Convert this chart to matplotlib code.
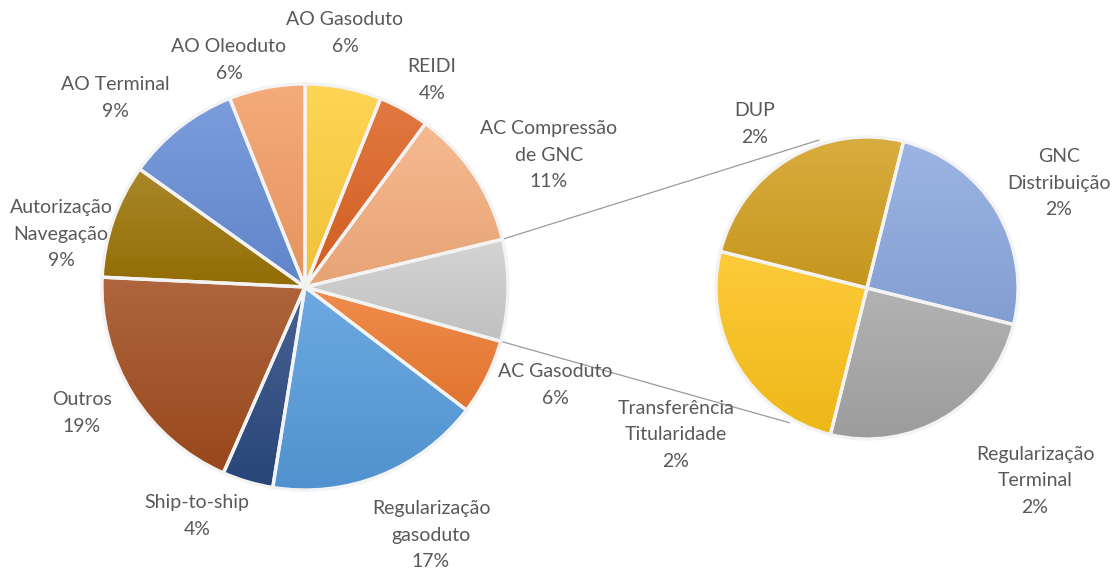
import numpy as np
import matplotlib
matplotlib.use('Agg')
import matplotlib.pyplot as plt
from matplotlib.patches import PathPatch
from matplotlib.colors import to_rgb

# primary pie (clockwise, starting below the grey "others" slice)
main_labels = ['AC Gasoduto', 'Regularização\ngasoduto', 'Ship-to-ship', 'Outros',
               'Autorização\nNavegação', 'AO Terminal', 'AO Oleoduto', 'AO Gasoduto',
               'REIDI', 'AC Compressão\nde GNC', '']
main_values = [6, 17, 4, 19, 9, 9, 6, 6, 4, 11, 8]
main_colors = ['#EE7B30', '#559BDC', '#2B4A80', '#A24C1E', '#9C7406', '#668DD6',
               '#F39D64', '#FECE3A', '#DD6322', '#F5AE7D', '#CDCDCD']

# secondary pie (the 8% grey slice split)
sub_labels = ['GNC\nDistribuição', 'Regularização\nTerminal', 'Transferência\nTitularidade', 'DUP']
sub_values = [2, 2, 2, 2]
sub_colors = ['#8BA8DE', '#A6A6A6', '#FDC31A', '#D2A020']

W, H = 1115, 569
fig = plt.figure(figsize=(W / 100, H / 100), dpi=100, facecolor='w')
ax = fig.add_axes([0, 0, 1, 1])

c1, r1 = (305, H - 287), 203
c2, r2 = (867, H - 288), 151
start1 = -15.5
start2 = 76


def shade(col, f):
    c = np.array(to_rgb(col))
    if f > 0:
        return c + (1 - c) * f
    return c * (1 + f)


def gradient_fill(ax, wedges, colors):
    for w, col in zip(wedges, colors):
        ext = w.get_path().get_extents()
        top, bot = shade(col, 0.14), shade(col, -0.06)
        t = np.linspace(0, 1, 64)[:, None]
        img = top[None, :] * (1 - t[..., None]) + bot[None, :] * t[..., None]
        im = ax.imshow(img, extent=(ext.x0, ext.x1, ext.y0, ext.y1), origin='upper',
                       aspect='auto', zorder=2, interpolation='bilinear')
        im.set_clip_path(w)
        ax.add_patch(PathPatch(w.get_path(), fill=False, ec='#F3F3F3', lw=2.4, zorder=3))


w1, _ = ax.pie(main_values, colors=main_colors, startangle=start1, counterclock=False,
               center=c1, radius=r1, explode=[0.025] * len(main_values),
               wedgeprops=dict(ec='white', lw=2), frame=True)
w2, _ = ax.pie(sub_values, colors=sub_colors, startangle=start2, counterclock=False,
               center=c2, radius=r2, explode=[0.03] * len(sub_values),
               wedgeprops=dict(ec='white', lw=2), frame=True)
gradient_fill(ax, w1, main_colors)
gradient_fill(ax, w2, sub_colors)

# connector lines from the grey slice to the secondary pie
g = w1[-1]
for a1, a2 in [(g.theta2, 108), (g.theta1, -120)]:
    cx, cy = g.center
    p1 = (cx + g.r * np.cos(np.radians(a1)), cy + g.r * np.sin(np.radians(a1)))
    p2 = (c2[0] + r2 * 1.03 * np.cos(np.radians(a2)), c2[1] + r2 * 1.03 * np.sin(np.radians(a2)))
    ax.plot([p1[0], p2[0]], [p1[1], p2[1]], color='#9A9A9A', lw=0.9, zorder=1)

# label positions (pixel coords, top-down)
main_pos = [(555, 385), (431, 535), (197, 516), (82, 413), (61, 234), (115, 98),
            (229, 60), (345, 33), (432, 80), (549, 155), None]
sub_pos = [(1059, 183), (1035, 481), (676, 435), (755, 124)]

font = dict(family='Lato', size=14, color='#595959', ha='center', va='center',
            linespacing=1.7, zorder=5)
tot = sum(main_values)
for lab, v, pos in zip(main_labels, main_values, main_pos):
    if pos is None:
        continue
    ax.text(pos[0], H - pos[1], f'{lab}\n{round(100 * v / tot)}%', **font)
for lab, v, pos in zip(sub_labels, sub_values, sub_pos):
    ax.text(pos[0], H - pos[1], f'{lab}\n{v}%', **font)

ax.set_xlim(0, W)
ax.set_ylim(0, H)
ax.set_aspect('auto')
ax.axis('off')
fig.savefig('out.png', dpi=100, facecolor='w')
